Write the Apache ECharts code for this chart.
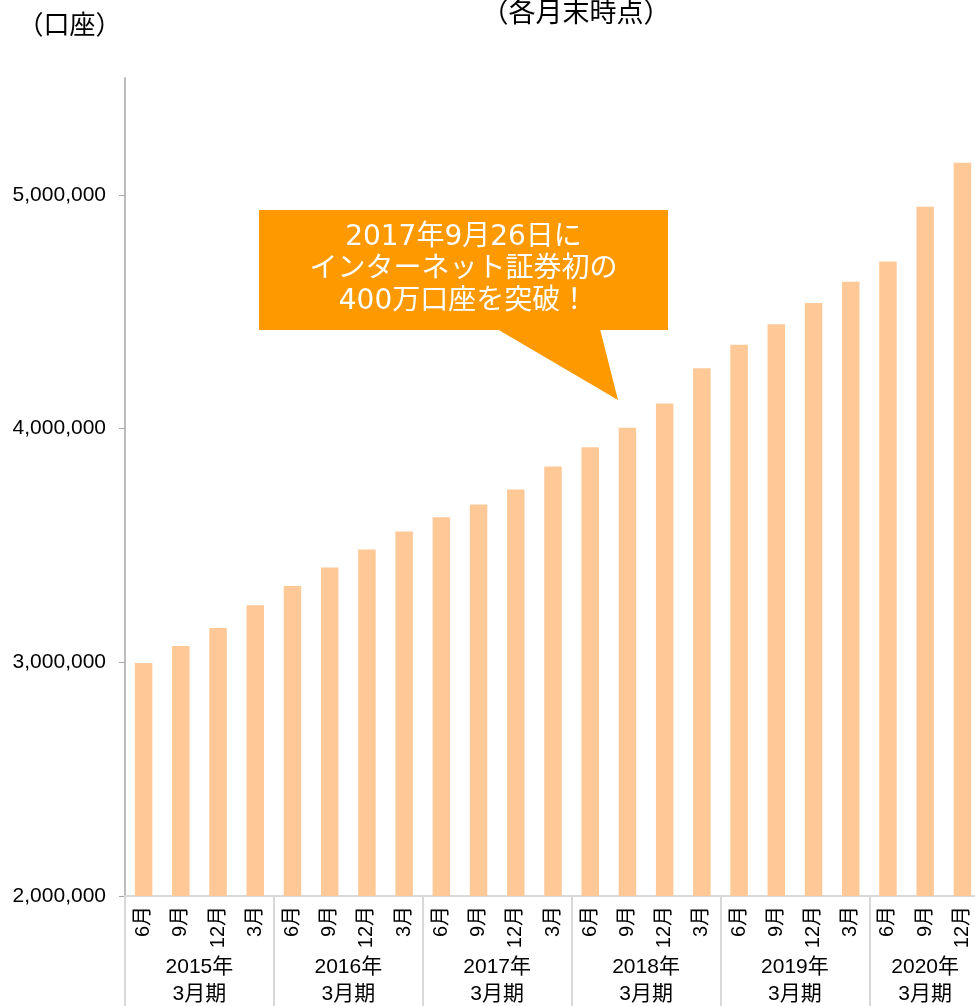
<!DOCTYPE html>
<html>
<head>
<meta charset="utf-8">
<script src="https://cdn.jsdelivr.net/npm/echarts@6/dist/echarts.min.js"></script>
<style>
html,body{margin:0;padding:0;background:#fff;}
#c{width:975px;height:1006px;}
</style>
</head>
<body>
<div id="c"></div>
<script>
// ---- data ----
const months = ['6月','9月','12月','3月','6月','9月','12月','3月','6月','9月','12月','3月',
                '6月','9月','12月','3月','6月','9月','12月','3月','6月','9月','12月'];
const accounts = [2997000,3070000,3147000,3244000,3326000,3406000,3483000,3560000,
                  3621000,3675000,3739000,3838000,3920000,4003000,4107000,4258000,
                  4359000,4446000,4537000,4628000,4715000,4949000,5137000];
const fiscalYears = ['2015年\n3月期','2016年\n3月期','2017年\n3月期','2018年\n3月期','2019年\n3月期','2020年\n3月期'];
const monthsPerYear = [4,4,4,4,4,3];
const yTicks = [2000000,3000000,4000000,5000000];
const unitLabel = '（口座）';
const noteLabel = '（各月末時点）';
const calloutText = '2017年9月26日に\nインターネット証券初の\n400万口座を突破！';

// group boundaries / centres on a 0..N value axis
const bounds = [0];
monthsPerYear.forEach(n => bounds.push(bounds[bounds.length-1] + n));
const centres = monthsPerYear.map((n,i) => bounds[i] + n/2);

const FONT = '"Liberation Sans", Arial, "Noto Sans CJK JP", sans-serif';
const CALLOUT_FONT = '"DejaVu Sans", "Noto Sans CJK JP", sans-serif';

const chart = echarts.init(document.getElementById('c'), null, {renderer:'canvas'});
chart.setOption({
  animation:false,
  backgroundColor:'#ffffff',
  textStyle:{fontFamily:FONT},
  grid:{left:125, right:-6, top:78, bottom:110, outerBoundsMode:'none', containLabel:false},
  xAxis:[
    {
      type:'category', data:months, boundaryGap:true,
      axisLine:{lineStyle:{color:'#D9D9D9', width:2}},
      axisTick:{show:false},
      axisLabel:{rotate:90, margin:10, fontSize:20, color:'#000', interval:0, fontFamily:FONT}
    },
    {
      type:'value', min:0, max:bounds[bounds.length-1], position:'bottom',
      axisLine:{show:false},
      splitLine:{show:false},
      axisTick:{show:true, customValues:bounds, length:112, lineStyle:{color:'#D9D9D9', width:2}},
      axisLabel:{
        customValues:centres, margin:58, fontSize:21, lineHeight:27, color:'#000', fontFamily:FONT,
        verticalAlign:'top',
        formatter:function(v){ const i = centres.indexOf(v); return i>=0 ? fiscalYears[i] : ''; }
      }
    }
  ],
  yAxis:{
    type:'value', min:2000000, max:5500000, interval:1000000,
    axisLine:{show:true, lineStyle:{color:'#A6A6A6', width:1.5}},
    axisTick:{show:true, length:6, customValues:yTicks, lineStyle:{color:'#A6A6A6'}},
    splitLine:{show:false},
    axisLabel:{customValues:yTicks, margin:19, fontSize:21, color:'#000', fontFamily:FONT,
      formatter:function(v){ return Number(v).toLocaleString('en-US'); }}
  },
  series:[{
    type:'bar', xAxisIndex:0, yAxisIndex:0, data:accounts, barWidth:'47%',
    itemStyle:{color:'#FFC997'}
  }],
  graphic:[
    {type:'text', x:69.5, y:27, style:{text:unitLabel, fill:'#000', fontSize:26, fontFamily:FONT, align:'center', verticalAlign:'middle'}},
    {type:'text', x:576, y:15, style:{text:noteLabel, fill:'#000', fontSize:27, fontFamily:FONT, align:'center', verticalAlign:'middle'}},
    {type:'polygon', shape:{points:[[497,329],[600,329],[618,400]]}, style:{fill:'#FF9900'}},
    {type:'rect', shape:{x:259, y:210, width:409, height:120}, style:{fill:'#FF9900'}},
    {type:'text', x:463.5, y:270, style:{text:calloutText, fill:'#fff', fontSize:28, lineHeight:32,
      fontFamily:CALLOUT_FONT, align:'center', verticalAlign:'middle'}}
  ]
});
</script>
</body>
</html>
